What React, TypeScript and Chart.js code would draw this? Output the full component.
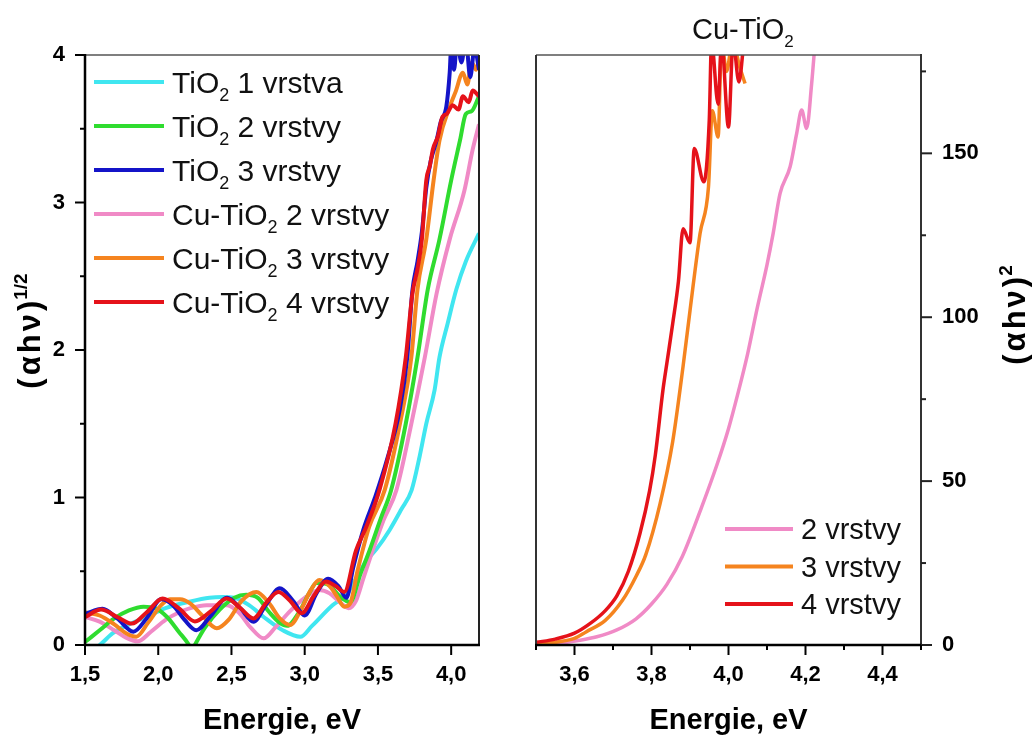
import React, { useEffect, useRef } from 'react';
import { Chart, registerables } from 'chart.js';
Chart.register(...registerables);

const FONT = '"Liberation Sans", Arial, Helvetica, sans-serif';

// ---------- Left panel: (αhν)^1/2 vs energy ----------
const leftLabels = ['TiO₂ 1 vrstva', 'TiO₂ 2 vrstvy', 'TiO₂ 3 vrstvy', 'Cu-TiO₂ 2 vrstvy', 'Cu-TiO₂ 3 vrstvy', 'Cu-TiO₂ 4 vrstvy'];
const leftColors = ['#40e6f0', '#2fdc2f', '#1414c8', '#f08ac6', '#f5841f', '#e5121a'];

const cyanE = [1.50, 1.60, 1.69, 1.80, 1.92, 2.05, 2.22, 2.35, 2.44, 2.52, 2.62, 2.72, 2.85, 2.97, 3.05, 3.19, 3.285, 3.35, 3.42, 3.49, 3.58, 3.66, 3.73, 3.785, 3.83, 3.887, 3.92, 3.976, 4.035, 4.10, 4.19];
const cyanV = [-0.06, 0.0, 0.08, 0.14, 0.19, 0.25, 0.295, 0.32, 0.325, 0.32, 0.27, 0.19, 0.10, 0.056, 0.13, 0.27, 0.34, 0.45, 0.57, 0.65, 0.78, 0.92, 1.05, 1.28, 1.5, 1.73, 1.95, 2.18, 2.41, 2.6, 2.79];

const greenE = [1.50, 1.60, 1.70, 1.80, 1.90, 1.98, 2.06, 2.14, 2.21, 2.23, 2.25, 2.32, 2.42, 2.52, 2.60, 2.68, 2.76, 2.83, 2.88, 2.96, 3.03, 3.08, 3.16, 3.24, 3.31, 3.38, 3.444, 3.52, 3.59, 3.69, 3.77, 3.84, 3.92, 4.00, 4.06, 4.10, 4.14, 4.19];
const greenV = [0.02, 0.10, 0.18, 0.235, 0.26, 0.25, 0.19, 0.09, 0.0, -0.04, 0.0, 0.12, 0.24, 0.32, 0.34, 0.32, 0.22, 0.15, 0.13, 0.22, 0.35, 0.42, 0.41, 0.33, 0.29, 0.48, 0.644, 0.86, 1.05, 1.5, 1.95, 2.41, 2.75, 3.15, 3.42, 3.6, 3.62, 3.72];

const blueE = [1.50, 1.62, 1.72, 1.83, 1.92, 2.02, 2.10, 2.18, 2.26, 2.36, 2.47, 2.56, 2.65, 2.74, 2.83, 2.92, 3.00, 3.08, 3.16, 3.23, 3.285, 3.33, 3.40, 3.48, 3.56, 3.65, 3.70, 3.735, 3.77, 3.80, 3.83, 3.86, 3.90, 3.93, 3.967, 3.99, 4.00, 4.02, 4.04, 4.07, 4.10, 4.13, 4.16, 4.19];
const blueV = [0.21, 0.245, 0.18, 0.09, 0.18, 0.31, 0.27, 0.17, 0.10, 0.20, 0.32, 0.25, 0.158, 0.28, 0.384, 0.30, 0.20, 0.35, 0.45, 0.40, 0.32, 0.52, 0.78, 1.0, 1.25, 1.6, 1.95, 2.4, 2.6, 2.8, 3.1, 3.28, 3.42, 3.55, 3.65, 3.88, 4.05, 3.9, 4.1, 3.95, 4.1, 3.85, 4.05, 3.9];

const pinkE = [1.50, 1.60, 1.70, 1.78, 1.86, 1.95, 2.05, 2.14, 2.22, 2.33, 2.47, 2.55, 2.63, 2.72, 2.80, 2.90, 3.00, 3.10, 3.17, 3.24, 3.30, 3.35, 3.40, 3.465, 3.54, 3.626, 3.728, 3.82, 3.90, 3.99, 4.09, 4.147, 4.19];
const pinkV = [0.19, 0.158, 0.10, 0.05, 0.025, 0.09, 0.17, 0.22, 0.25, 0.27, 0.27, 0.22, 0.12, 0.045, 0.12, 0.23, 0.32, 0.373, 0.35, 0.29, 0.25, 0.30, 0.45, 0.644, 0.85, 1.05, 1.5, 1.95, 2.38, 2.75, 3.08, 3.36, 3.53];

const orangeE = [1.50, 1.60, 1.70, 1.78, 1.85, 1.93, 2.02, 2.08, 2.15, 2.22, 2.30, 2.40, 2.48, 2.57, 2.67, 2.76, 2.83, 2.90, 2.98, 3.04, 3.10, 3.17, 3.22, 3.27, 3.31, 3.36, 3.44, 3.546, 3.65, 3.728, 3.77, 3.83, 3.88, 3.92, 3.99, 4.03, 4.08, 4.11, 4.14, 4.17, 4.19];
const orangeV = [0.22, 0.20, 0.14, 0.08, 0.056, 0.15, 0.27, 0.31, 0.31, 0.28, 0.20, 0.113, 0.17, 0.30, 0.36, 0.28, 0.18, 0.136, 0.25, 0.37, 0.44, 0.40, 0.33, 0.26, 0.28, 0.50, 0.80, 1.05, 1.5, 1.95, 2.41, 2.75, 3.15, 3.42, 3.65, 3.75, 3.88, 3.8, 3.95, 3.9, 3.97];

const redE = [1.50, 1.61, 1.72, 1.82, 1.92, 2.03, 2.14, 2.25, 2.36, 2.467, 2.56, 2.65, 2.74, 2.82, 2.90, 2.98, 3.06, 3.145, 3.21, 3.27, 3.35, 3.42, 3.51, 3.62, 3.69, 3.735, 3.77, 3.80, 3.83, 3.855, 3.875, 3.91, 3.94, 3.97, 4.01, 4.05, 4.08, 4.12, 4.147, 4.19];
const redV = [0.19, 0.24, 0.19, 0.145, 0.22, 0.315, 0.25, 0.16, 0.23, 0.316, 0.25, 0.18, 0.29, 0.36, 0.30, 0.216, 0.33, 0.43, 0.40, 0.36, 0.64, 0.80, 1.05, 1.5, 1.95, 2.38, 2.55, 2.75, 3.15, 3.25, 3.36, 3.45, 3.58, 3.6, 3.66, 3.63, 3.72, 3.68, 3.76, 3.72];

const leftXTicks = [1.5, 2.0, 2.5, 3.0, 3.5, 4.0];
const leftYMajor = [0, 1, 2, 3, 4];
const leftYMinor = [0.5, 1.5, 2.5, 3.5];

// ---------- Right panel: (αhν)^2 vs energy ----------
const rightTitle = 'Cu-TiO₂';
const rightLabels = ['2 vrstvy', '3 vrstvy', '4 vrstvy'];
const rightColors = ['#f08ac6', '#f5841f', '#e5121a'];

const pinkRE = [3.50, 3.56, 3.606, 3.658, 3.71, 3.76, 3.80, 3.84, 3.88, 3.93, 3.97, 4.00, 4.025, 4.05, 4.075, 4.10, 4.116, 4.134, 4.16, 4.177, 4.19, 4.203, 4.216, 4.225];
const pinkRV = [0.1, 0.5, 1.3, 2.5, 4.6, 8.0, 12.5, 18.5, 27, 42, 55, 66, 77, 89, 103, 116, 125.6, 137.8, 145.9, 156, 163.2, 157.6, 171.3, 184];

const orangeRE = [3.50, 3.56, 3.60, 3.63, 3.68, 3.725, 3.76, 3.785, 3.822, 3.855, 3.882, 3.90, 3.926, 3.948, 3.958, 3.973, 3.982, 3.995, 4.01, 4.03, 4.043];
const orangeRV = [0.3, 1.0, 2.0, 4.0, 7.5, 13.7, 21, 27.5, 43, 62, 85, 102, 125.5, 139.8, 163, 155, 184, 175, 184, 176, 171.3];

const redRE = [3.50, 3.55, 3.60, 3.64, 3.68, 3.71, 3.74, 3.77, 3.795, 3.81, 3.83, 3.84, 3.855, 3.87, 3.882, 3.90, 3.911, 3.936, 3.95, 3.956, 3.973, 3.982, 4.00, 4.012, 4.027, 4.04];
const redRV = [0.8, 1.8, 3.6, 6.5, 10.5, 15.0, 22.5, 34, 47, 58, 78, 86, 98, 111, 127, 122.7, 151.5, 141.3, 160, 184, 165, 184, 158, 184, 171.8, 184];

const rightXMajor = [3.6, 3.8, 4.0, 4.2, 4.4];
const rightXMinor = [3.5, 3.7, 3.9, 4.1, 4.3, 4.5];
const rightYMajor = [0, 50, 100, 150];
const rightYMinor = [25, 75, 125, 175];

const xTitle = 'Energie, eV';
const leftYTitle = ['(αhν)', '1/2'];
const rightYTitle = ['(αhν)', '2'];

// ---------- helpers ----------
const pts = (E: number[], V: number[]) => E.map((e, i) => ({ x: e, y: V[i] }));
const comma = (v: number) => v.toFixed(1).replace('.', ',');

function drawRich(ctx: CanvasRenderingContext2D, text: string, x: number, y: number, size: number, weight: string) {
  const parts = text.split('₂');
  let cx = x;
  ctx.textAlign = 'left';
  ctx.textBaseline = 'alphabetic';
  parts.forEach((p, i) => {
    ctx.font = `${weight} ${size}px ${FONT}`;
    ctx.fillText(p, cx, y);
    cx += ctx.measureText(p).width;
    if (i < parts.length - 1) {
      ctx.font = `${weight} ${Math.round(size * 0.6)}px ${FONT}`;
      ctx.fillText('2', cx, y + size * 0.28);
      cx += ctx.measureText('2').width;
    }
  });
}

function drawVTitle(ctx: CanvasRenderingContext2D, parts: string[], baseX: number, centerY: number, size: number, spacing: number) {
  ctx.save();
  ctx.fillStyle = '#000';
  const anyCtx = ctx as any;
  anyCtx.letterSpacing = `${spacing}px`;
  ctx.font = `bold ${size}px ${FONT}`;
  const w1 = ctx.measureText(parts[0]).width - spacing;
  const sup = Math.round(size * 0.6);
  anyCtx.letterSpacing = '0px';
  ctx.font = `bold ${sup}px ${FONT}`;
  const w2 = ctx.measureText(parts[1]).width;
  const gap = 1;
  const total = w1 + w2 + gap;
  ctx.translate(baseX, centerY);
  ctx.rotate(-Math.PI / 2);
  ctx.textAlign = 'left';
  ctx.textBaseline = 'alphabetic';
  anyCtx.letterSpacing = `${spacing}px`;
  ctx.font = `bold ${size}px ${FONT}`;
  ctx.fillText(parts[0], -total / 2, 0);
  anyCtx.letterSpacing = '0px';
  ctx.font = `bold ${sup}px ${FONT}`;
  ctx.fillText(parts[1], -total / 2 + w1 + gap, -size * 0.42);
  ctx.restore();
}

function line(ctx: CanvasRenderingContext2D, x1: number, y1: number, x2: number, y2: number, w: number, c: string) {
  ctx.beginPath();
  ctx.strokeStyle = c;
  ctx.lineWidth = w;
  ctx.lineCap = 'butt';
  ctx.moveTo(x1, y1);
  ctx.lineTo(x2, y2);
  ctx.stroke();
}

const tickFont = { family: FONT, size: 22, weight: 'bold' as const };
const titleFont = { family: FONT, size: 29, weight: 'bold' as const };

export default function App() {
  const leftRef = useRef<HTMLCanvasElement>(null);
  const rightRef = useRef<HTMLCanvasElement>(null);

  useEffect(() => {
    const leftSeries = [
      { E: cyanE, V: cyanV, order: 5 },
      { E: greenE, V: greenV, order: 3 },
      { E: blueE, V: blueV, order: 1 },
      { E: pinkE, V: pinkV, order: 4 },
      { E: orangeE, V: orangeV, order: 2 },
      { E: redE, V: redV, order: 0 },
    ];

    const leftDecor = {
      id: 'leftDecor',
      afterDraw(chart: any) {
        const { ctx, chartArea: a, scales } = chart;
        const xs = scales.x, ys = scales.y;
        ctx.save();
        line(ctx, a.left, a.top, a.right, a.top, 1.5, '#555');
        line(ctx, a.right, a.top, a.right, a.bottom, 2, '#222');
        line(ctx, a.left, a.top - 1, a.left, a.bottom + 1, 2.5, '#000');
        line(ctx, a.left - 1, a.bottom, a.right + 1, a.bottom, 2.5, '#000');
        leftYMajor.forEach(v => { const y = ys.getPixelForValue(v); line(ctx, a.left - 10, y, a.left, y, 2, '#000'); });
        leftYMinor.forEach(v => { const y = ys.getPixelForValue(v); line(ctx, a.left - 5, y, a.left, y, 2, '#000'); });
        leftXTicks.forEach(v => { const x = xs.getPixelForValue(v); line(ctx, x, a.bottom, x, a.bottom + 10, 2, '#000'); });
        chart.data.datasets.forEach((ds: any, i: number) => {
          const y = 82 + i * 44;
          line(ctx, 94, y, 164, y, 4, ds.borderColor);
          ctx.fillStyle = '#111';
          drawRich(ctx, ds.label, 172, y + 10.8, 30, 'normal');
        });
        drawVTitle(ctx, leftYTitle, 40, 331, 31, 3);
        ctx.restore();
      },
    };

    const left = new Chart(leftRef.current!, {
      type: 'line',
      data: {
        datasets: leftSeries.map((s, i) => ({
          label: leftLabels[i],
          data: pts(s.E, s.V),
          borderColor: leftColors[i],
          backgroundColor: leftColors[i],
          borderWidth: 4,
          pointRadius: 0,
          cubicInterpolationMode: 'monotone' as const,
          order: s.order,
          clip: 0,
        })),
      },
      options: {
        responsive: false,
        animation: false,
        devicePixelRatio: 1,
        layout: { padding: { left: 0, right: 21, top: 55, bottom: 0 } },
        plugins: { legend: { display: false }, tooltip: { enabled: false } },
        scales: {
          x: {
            type: 'linear', min: 1.5, max: 4.19,
            afterBuildTicks: (s: any) => { s.ticks = leftXTicks.map(v => ({ value: v })); },
            afterFit: (s: any) => { s.height = 93; },
            ticks: { callback: (v: any) => comma(Number(v)), font: tickFont, color: '#000', padding: 17, maxRotation: 0, autoSkip: false },
            grid: { display: false, drawTicks: false },
            border: { display: false },
            title: { display: true, text: xTitle, font: titleFont, color: '#000', padding: 0 },
          },
          y: {
            type: 'linear', min: 0, max: 4,
            afterBuildTicks: (s: any) => { s.ticks = leftYMajor.map(v => ({ value: v })); },
            afterFit: (s: any) => { s.width = 85; },
            ticks: { callback: (v: any) => String(v), font: tickFont, color: '#000', padding: 20 },
            grid: { display: false, drawTicks: false },
            border: { display: false },
          },
        },
      },
      plugins: [leftDecor],
    } as any);

    const rightSeries = [
      { E: pinkRE, V: pinkRV, order: 2 },
      { E: orangeRE, V: orangeRV, order: 1 },
      { E: redRE, V: redRV, order: 0 },
    ];

    const rightDecor = {
      id: 'rightDecor',
      afterDraw(chart: any) {
        const { ctx, chartArea: a, scales } = chart;
        const xs = scales.x, ys = scales.y;
        ctx.save();
        line(ctx, a.left, a.top, a.right, a.top, 1.5, '#555');
        line(ctx, a.left, a.top, a.left, a.bottom, 2, '#333');
        line(ctx, a.right, a.top - 1, a.right, a.bottom + 1, 2, '#333');
        line(ctx, a.left - 1, a.bottom, a.right + 1, a.bottom, 2.5, '#000');
        rightYMajor.forEach(v => { const y = ys.getPixelForValue(v); line(ctx, a.right, y, a.right + 11, y, 2, '#222'); });
        rightYMinor.forEach(v => { const y = ys.getPixelForValue(v); line(ctx, a.right, y, a.right + 5, y, 2, '#222'); });
        rightXMajor.forEach(v => { const x = xs.getPixelForValue(v); line(ctx, x, a.bottom, x, a.bottom + 10, 2, '#000'); });
        rightXMinor.forEach(v => { const x = xs.getPixelForValue(v); line(ctx, x, a.bottom, x, a.bottom + 5, 2, '#000'); });
        chart.data.datasets.forEach((ds: any, i: number) => {
          const y = 529 + i * 37.5;
          line(ctx, 225, y, 293, y, 4, ds.borderColor);
          ctx.fillStyle = '#111';
          drawRich(ctx, ds.label, 301, y + 10.4, 29, 'normal');
        });
        ctx.fillStyle = '#111';
        drawRich(ctx, rightTitle, 192, 39, 29, 'normal');
        drawVTitle(ctx, rightYTitle, 525, 315, 31, 3);
        ctx.restore();
      },
    };

    const right = new Chart(rightRef.current!, {
      type: 'line',
      data: {
        datasets: rightSeries.map((s, i) => ({
          label: rightLabels[i],
          data: pts(s.E, s.V),
          borderColor: rightColors[i],
          backgroundColor: rightColors[i],
          borderWidth: 3.5,
          pointRadius: 0,
          cubicInterpolationMode: 'monotone' as const,
          order: s.order,
          clip: 0,
        })),
      },
      options: {
        responsive: false,
        animation: false,
        devicePixelRatio: 1,
        layout: { padding: { left: 36, right: 0, top: 55, bottom: 0 } },
        plugins: { legend: { display: false }, tooltip: { enabled: false } },
        scales: {
          x: {
            type: 'linear', min: 3.5, max: 4.5,
            afterBuildTicks: (s: any) => { s.ticks = rightXMajor.map(v => ({ value: v })); },
            afterFit: (s: any) => { s.height = 93; },
            ticks: { callback: (v: any) => comma(Number(v)), font: tickFont, color: '#000', padding: 17, maxRotation: 0, autoSkip: false },
            grid: { display: false, drawTicks: false },
            border: { display: false },
            title: { display: true, text: xTitle, font: titleFont, color: '#000', padding: 0 },
          },
          y: {
            type: 'linear', position: 'right', min: 0, max: 180,
            afterBuildTicks: (s: any) => { s.ticks = rightYMajor.map(v => ({ value: v })); },
            afterFit: (s: any) => { s.width = 114; },
            ticks: { callback: (v: any) => String(v), font: tickFont, color: '#000', padding: 21 },
            grid: { display: false, drawTicks: false },
            border: { display: false },
          },
        },
      },
      plugins: [rightDecor],
    } as any);

    return () => { left.destroy(); right.destroy(); };
  }, []);

  return (
    <div style={{ position: 'fixed', left: 0, top: 0, width: 1035, height: 738, background: '#fff', overflow: 'hidden' }}>
      <canvas ref={leftRef} width={500} height={738} style={{ position: 'absolute', left: 0, top: 0, width: 500, height: 738 }} />
      <canvas ref={rightRef} width={535} height={738} style={{ position: 'absolute', left: 500, top: 0, width: 535, height: 738 }} />
    </div>
  );
}
